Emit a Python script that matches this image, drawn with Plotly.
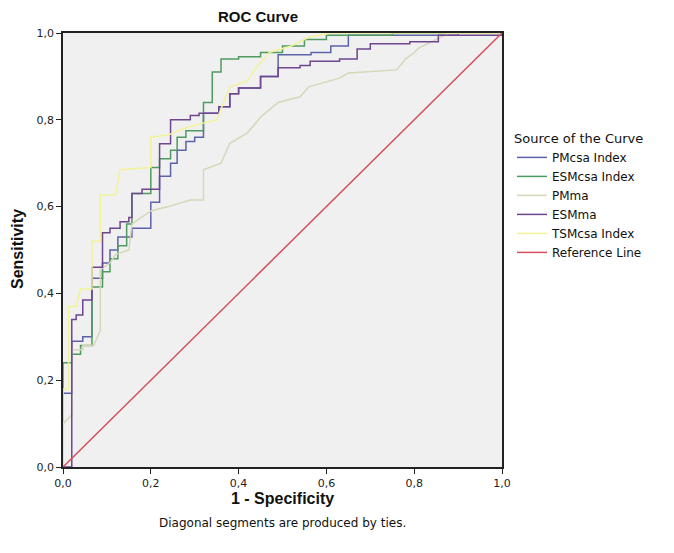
import plotly.graph_objects as go

tick_vals = [0.0, 0.2, 0.4, 0.6, 0.8, 1.0]
tick_text = ["0,0", "0,2", "0,4", "0,6", "0,8", "1,0"]

pmcsa_x = [0, 0, 0.02, 0.02, 0.045, 0.045, 0.066, 0.066, 0.09, 0.09, 0.107, 0.107, 0.125, 0.125,
           0.157, 0.157, 0.2, 0.2, 0.22, 0.22, 0.245, 0.245, 0.26, 0.26, 0.28, 0.28, 0.3, 0.3,
           0.32, 0.32, 0.355, 0.355, 0.38, 0.38, 0.40, 0.40, 0.45, 0.45, 0.49, 0.49, 0.565, 0.565,
           0.61, 0.61, 0.65, 0.65, 0.9, 0.9, 1.0]
pmcsa_y = [0, 0.17, 0.17, 0.29, 0.29, 0.30, 0.30, 0.435, 0.435, 0.47, 0.47, 0.50, 0.50, 0.53,
           0.53, 0.55, 0.55, 0.61, 0.61, 0.67, 0.67, 0.70, 0.70, 0.73, 0.73, 0.75, 0.75, 0.76,
           0.76, 0.815, 0.815, 0.83, 0.83, 0.86, 0.86, 0.873, 0.873, 0.90, 0.90, 0.95, 0.95, 0.955,
           0.955, 0.97, 0.97, 0.995, 0.995, 1.0, 1.0]

esmcsa_x = [0, 0, 0.02, 0.02, 0.04, 0.04, 0.066, 0.066, 0.09, 0.09, 0.107, 0.107, 0.125, 0.125,
            0.145, 0.145, 0.157, 0.157, 0.2, 0.2, 0.22, 0.22, 0.245, 0.245, 0.26, 0.26, 0.28, 0.28,
            0.32, 0.32, 0.34, 0.34, 0.36, 0.36, 0.40, 0.40, 0.45, 0.45, 0.5, 0.5, 0.55, 0.55,
            0.6, 0.6, 0.75, 0.75, 1.0]
esmcsa_y = [0, 0.24, 0.24, 0.26, 0.26, 0.28, 0.28, 0.415, 0.415, 0.45, 0.45, 0.48, 0.48, 0.51,
            0.51, 0.56, 0.56, 0.63, 0.63, 0.69, 0.69, 0.71, 0.71, 0.73, 0.73, 0.76, 0.76, 0.775,
            0.775, 0.84, 0.84, 0.91, 0.91, 0.94, 0.94, 0.945, 0.945, 0.955, 0.955, 0.97, 0.97, 0.985,
            0.985, 0.995, 0.995, 1.0, 1.0]

pmma_x = [0, 0, 0.02, 0.02, 0.045, 0.045, 0.07, 0.085, 0.085, 0.107, 0.12, 0.15, 0.157, 0.18,
          0.2, 0.24, 0.29, 0.32, 0.32, 0.36, 0.38, 0.42, 0.45, 0.49, 0.54, 0.56, 0.63, 0.65,
          0.76, 0.78, 0.80, 0.81, 0.84, 0.88, 1.0]
pmma_y = [0, 0.10, 0.12, 0.27, 0.27, 0.28, 0.28, 0.315, 0.455, 0.47, 0.49, 0.50, 0.56, 0.575,
          0.59, 0.60, 0.615, 0.615, 0.685, 0.70, 0.746, 0.77, 0.806, 0.84, 0.853, 0.876, 0.896, 0.908,
          0.915, 0.94, 0.955, 0.965, 0.98, 1.0, 1.0]

esmma_x = [0, 0.02, 0.02, 0.03, 0.03, 0.045, 0.045, 0.066, 0.066, 0.09, 0.09, 0.107, 0.107,
           0.13, 0.13, 0.15, 0.15, 0.157, 0.157, 0.18, 0.18, 0.22, 0.22, 0.245, 0.245, 0.29, 0.29,
           0.31, 0.31, 0.355, 0.355, 0.38, 0.38, 0.40, 0.40, 0.45, 0.45, 0.49, 0.49, 0.54, 0.54,
           0.563, 0.563, 0.63, 0.63, 0.67, 0.67, 0.70, 0.70, 0.79, 0.79, 0.855, 0.855, 1.0, 1.0]
esmma_y = [0, 0, 0.34, 0.34, 0.35, 0.35, 0.385, 0.385, 0.46, 0.46, 0.54, 0.54, 0.55, 0.55,
           0.565, 0.565, 0.575, 0.575, 0.63, 0.63, 0.64, 0.64, 0.745, 0.745, 0.80, 0.80, 0.81,
           0.81, 0.815, 0.815, 0.83, 0.83, 0.86, 0.86, 0.873, 0.873, 0.90, 0.90, 0.92, 0.92, 0.925,
           0.925, 0.935, 0.935, 0.94, 0.94, 0.963, 0.963, 0.975, 0.975, 0.98, 0.98, 0.995, 0.995, 1.0]

tsmcsa_x = [0, 0, 0.013, 0.013, 0.03, 0.04, 0.066, 0.066, 0.085, 0.085, 0.12, 0.13, 0.2, 0.2,
            0.24, 0.275, 0.31, 0.35, 0.38, 0.42, 0.44, 0.47, 0.52, 0.56, 0.61, 1.0]
tsmcsa_y = [0, 0.18, 0.18, 0.37, 0.37, 0.41, 0.41, 0.52, 0.52, 0.627, 0.627, 0.685, 0.69, 0.76,
            0.765, 0.78, 0.79, 0.80, 0.875, 0.89, 0.92, 0.955, 0.97, 0.99, 1.0, 1.0]

ref_x = [0, 1]
ref_y = [0, 1]

series = [
    ("PMcsa Index", pmcsa_x, pmcsa_y, "#5c63a8"),
    ("ESMcsa Index", esmcsa_x, esmcsa_y, "#4f9a60"),
    ("PMma", pmma_x, pmma_y, "#d6d6b8"),
    ("ESMma", esmma_x, esmma_y, "#6e4690"),
    ("TSMcsa Index", tsmcsa_x, tsmcsa_y, "#f2f29a"),
    ("Reference Line", ref_x, ref_y, "#d4505c"),
]

fig = go.Figure()
for name, xs, ys, col in series:
    fig.add_trace(go.Scatter(x=xs, y=ys, mode="lines", name=name,
                             line=dict(color=col, width=1.5)))

axis_common = dict(
    range=[0, 1], tickvals=tick_vals, ticktext=tick_text, automargin=False,
    showgrid=False, zeroline=False, showline=True, linecolor="#222222", linewidth=1.5,
    mirror=True, ticks="outside", ticklen=5, tickcolor="#222222",
    tickfont=dict(family="DejaVu Sans", size=11, color="#222222"),
)

# page body adds an 8px offset; figure is sized/positioned to compensate
OFF = 8
W, H = 674 - OFF, 553 - OFF
L, R, T, B = 63 - OFF, 172, 33 - OFF, 86
pw, ph = W - L - R, H - T - B

def px_x(p):  # screen px -> paper x
    return (p - OFF - L) / pw

def px_y(p):  # screen px -> paper y
    return (H - B - (p - OFF)) / ph

title_font = dict(family="Liberation Sans", size=16, color="#111111")

fig.update_layout(
    width=W, height=H,
    margin=dict(l=L, r=R, t=T, b=B),
    paper_bgcolor="white", plot_bgcolor="#f0f0f0",
    xaxis=dict(**axis_common),
    yaxis=dict(**axis_common),
    legend=dict(x=px_x(512), xanchor="left", y=px_y(126), yanchor="top",
                title=dict(text="Source of the Curve",
                           font=dict(family="DejaVu Sans", size=13, color="#111111")),
                font=dict(family="DejaVu Sans", size=12, color="#111111"),
                bgcolor="rgba(0,0,0,0)", itemwidth=30),
    annotations=[
        dict(text="<b>ROC Curve</b>", xref="paper", yref="paper", x=px_x(258), y=px_y(16),
             xanchor="center", yanchor="middle", showarrow=False,
             font=dict(family="Liberation Sans", size=15, color="#111111")),
        dict(text="<b>1 - Specificity</b>", xref="paper", yref="paper", x=px_x(282), y=px_y(498),
             xanchor="center", yanchor="middle", showarrow=False, font=title_font),
        dict(text="<b>Sensitivity</b>", xref="paper", yref="paper", x=px_x(18), y=px_y(249),
             xanchor="center", yanchor="middle", showarrow=False, textangle=-90, font=title_font),
        dict(text="Diagonal segments are produced by ties.", xref="paper", yref="paper",
             x=px_x(282), y=px_y(523), xanchor="center", yanchor="middle", showarrow=False,
             font=dict(family="DejaVu Sans", size=12, color="#111111")),
    ],
    showlegend=True,
)

fig.write_html("out.html")
